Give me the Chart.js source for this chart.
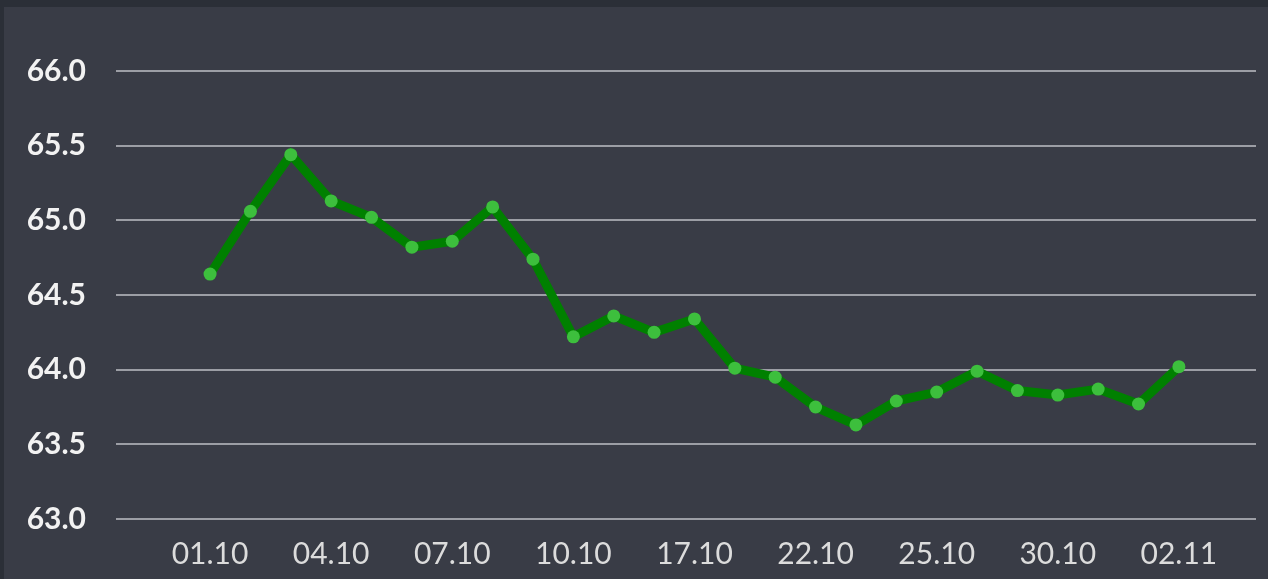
<!DOCTYPE html>
<html>
<head>
<meta charset="utf-8">
<script src="https://cdn.jsdelivr.net/npm/chart.js@4"></script>
<style>
  html, body { margin: 0; padding: 0; background: #2b2f37; width: 1268px; height: 579px; overflow: hidden; }
  #panel { position: absolute; left: 4px; top: 7px; width: 1264px; height: 572px; background: #393c46; }
</style>
</head>
<body>
<div id="panel"><canvas id="myChart"></canvas></div>
<script>
// даты (категории) и значения
const days = [
  "01.10", "02.10", "03.10", "04.10", "05.10", "06.10", "07.10", "08.10", "09.10",
  "10.10", "14.10", "16.10", "17.10", "18.10", "21.10", "22.10", "23.10", "24.10",
  "25.10", "28.10", "29.10", "30.10", "31.10", "01.11", "02.11"
];
const values = [
  64.64, 65.06, 65.44, 65.13, 65.02, 64.82, 64.86, 65.09, 64.74,
  64.22, 64.36, 64.25, 64.34, 64.01, 63.95, 63.75, 63.63, 63.79,
  63.85, 63.99, 63.86, 63.83, 63.87, 63.77, 64.02
];
const shownLabels = [0, 3, 6, 9, 12, 15, 18, 21, 24];
const yTicks = [63.0, 63.5, 64.0, 64.5, 65.0, 65.5, 66.0];

window.onload = function() {
  const ctx = document.getElementById("myChart").getContext("2d");
  const canvas = ctx.canvas;
  canvas.width = 1264;
  canvas.height = 572;

  new Chart(ctx, {
    type: "line",
    data: {
      datasets: [
        {
          data: values.map((v, i) => ({ x: i, y: v })),
          borderColor: "#008000",
          borderWidth: 9,
          pointRadius: 6.5,
          pointBorderWidth: 0,
          pointBackgroundColor: "#3dbf3d",
          tension: 0
        }
      ]
    },
    options: {
      responsive: false,
      animation: false,
      layout: { padding: { top: 64, right: 12, left: 0, bottom: 0 } },
      plugins: { legend: { display: false }, tooltip: { enabled: false } },
      scales: {
        x: {
          type: "linear",
          min: -2.33,
          max: 25.91,
          grid: { display: false },
          border: { display: false },
          afterBuildTicks: (axis) => {
            axis.ticks = shownLabels.map(i => ({ value: i }));
          },
          afterFit: (axis) => { axis.height = 60; },
          ticks: {
            autoSkip: false,
            maxRotation: 0,
            padding: 9,
            color: "#dcdcdc",
            font: { family: "Lato", size: 30 },
            callback: (v) => days[v]
          }
        },
        y: {
          min: 63,
          max: 66,
          grid: { color: "#9c9ea5", lineWidth: 2, drawTicks: false },
          border: { display: false },
          afterBuildTicks: (axis) => {
            axis.ticks = yTicks.map(v => ({ value: v }));
          },
          afterFit: (axis) => { axis.width = 112; },
          ticks: {
            padding: 30,
            color: "#f2f2f2",
            font: { family: "Lato", size: 30, weight: "bold" },
            callback: (v) => v.toFixed(1)
          }
        }
      }
    }
  });
};
</script>
</body>
</html>
